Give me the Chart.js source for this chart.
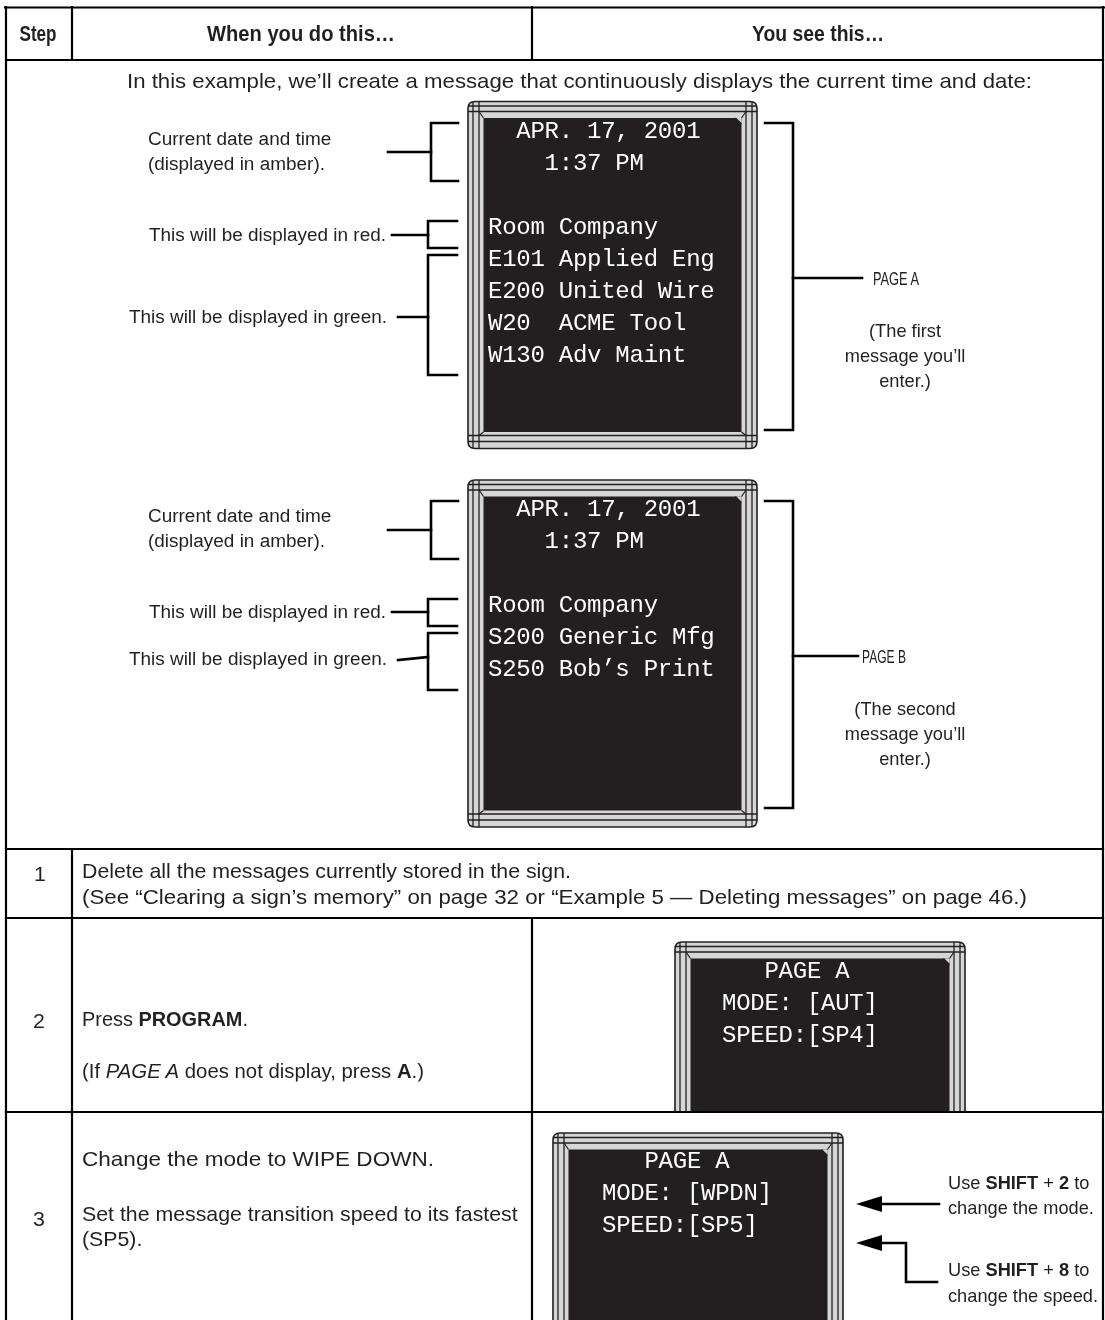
<!DOCTYPE html>
<html><head><meta charset="utf-8">
<script src="https://cdn.jsdelivr.net/npm/chart.js@4.4.1/dist/chart.umd.min.js"></script>
<style>
html,body{margin:0;padding:0;background:#fff;}
#wrap{position:relative;width:1105px;height:1320px;overflow:hidden;background:#fff;}
#c{position:absolute;left:0;top:0;}
.t{position:absolute;white-space:pre;line-height:1;color:#231f20;font-family:"Liberation Sans",Arial,sans-serif;}
.body{font-size:21px;}
.note{font-size:19px;}
.label{font-size:18px;}
.head{font-size:22px;font-weight:bold;}
.mono{font-family:"Liberation Mono","DejaVu Sans Mono",monospace;font-size:24px;letter-spacing:-0.25px;color:#fff;}
</style></head>
<body><div id="wrap"><canvas id="c" width="1105" height="1320"></canvas><div id="txt"></div></div>
<script>
// ---------- content ----------
const headers = ["Step", "When you do this…", "You see this…"];
const introText = "In this example, we’ll create a message that continuously displays the current time and date:";
const signALines = ["  APR. 17, 2001", "    1:37 PM", "", "Room Company", "E101 Applied Eng", "E200 United Wire", "W20  ACME Tool", "W130 Adv Maint"];
const signBLines = ["  APR. 17, 2001", "    1:37 PM", "", "Room Company", "S200 Generic Mfg", "S250 Bob’s Print"];
const sign2Lines = ["   PAGE A", "MODE: [AUT]", "SPEED:[SP4]"];
const sign3Lines = ["   PAGE A", "MODE: [WPDN]", "SPEED:[SP5]"];
const dateLabel = ["Current date and time", "(displayed in amber)."];
const redLabel = "This will be displayed in red.";
const greenLabel = "This will be displayed in green.";
const pageANote = ["PAGE A", "(The first", "message you’ll", "enter.)"];
const pageBNote = ["PAGE B", "(The second", "message you’ll", "enter.)"];
const step1 = ["Delete all the messages currently stored in the sign.", "(See “Clearing a sign’s memory” on page 32 or “Example 5 — Deleting messages” on page 46.)"];
const step2 = ["Press <b>PROGRAM</b>.", "(If <i>PAGE A</i> does not display, press <b>A</b>.)"];
const step3 = ["Change the mode to WIPE DOWN.", "Set the message transition speed to its fastest", "(SP5)."];
const step3Notes = ["Use <b>SHIFT</b> + <b>2</b> to", "change the mode.", "Use <b>SHIFT</b> + <b>8</b> to", "change the speed."];
const stepNumbers = ["1", "2", "3"];

// ---------- geometry (page units) ----------
const tableRules = [
  [[5,7.5],[1104,7.5]], [[6,7],[6,1320]], [[1103,7],[1103,1320]],
  [[6,60],[1103,60]], [[72,7],[72,60]], [[532,7],[532,60]],
  [[6,849],[1103,849]], [[72,849],[72,1320]], [[6,918],[1103,918]],
  [[532,918],[532,1320]], [[6,1112],[1103,1112]]
];
const brackets = [
  [[458,123],[431,123],[431,181],[458,181]], [[388,152],[431,152]],
  [[457,221],[428,221],[428,248],[457,248]], [[392,235],[428,235]],
  [[457,255],[428,255],[428,375],[457,375]], [[398,317],[428,317]],
  [[765,123],[793,123],[793,430],[765,430]], [[793,278],[862,278]],
  [[458,501],[431,501],[431,559],[458,559]], [[388,530],[431,530]],
  [[457,599],[428,599],[428,626],[457,626]], [[392,612],[428,612]],
  [[457,633],[428,633],[428,690],[457,690]], [[398,660],[428,657]],
  [[765,501],[793,501],[793,808],[765,808]], [[793,656],[858,656]],
  [[878,1204],[939,1204]], [[878,1243],[906,1243],[906,1282],[937,1282]]
];
const arrowHeads = [[856,1204],[856,1243]];
const signs = [
  {x0:468, y0:101.5, x1:757, y1:448.5, cut:null},
  {x0:468, y0:480, x1:757, y1:827, cut:null},
  {x0:675, y0:942, x1:965, y1:1150, cut:1111},
  {x0:553, y0:1133, x1:843, y1:1360, cut:1320}
];

// ---------- chart ----------
function line(pts, w) {
  return {data: pts.map(p => ({x:p[0], y:p[1]})), showLine:true, borderColor:'#000',
    borderWidth:w, pointRadius:0, fill:false, tension:0, borderCapStyle:'square', borderJoinStyle:'miter'};
}
const datasets = tableRules.map(r => line(r, 2.2)).concat(brackets.map(b => line(b, 2.6)));

function rr(ctx, x, y, w, h, r) {
  ctx.beginPath();
  ctx.moveTo(x+r, y); ctx.lineTo(x+w-r, y); ctx.quadraticCurveTo(x+w, y, x+w, y+r);
  ctx.lineTo(x+w, y+h-r); ctx.quadraticCurveTo(x+w, y+h, x+w-r, y+h);
  ctx.lineTo(x+r, y+h); ctx.quadraticCurveTo(x, y+h, x, y+h-r);
  ctx.lineTo(x, y+r); ctx.quadraticCurveTo(x, y, x+r, y); ctx.closePath();
}
function drawSign(ctx, s, px, py) {
  const x0 = px(s.x0), y0 = py(s.y0), x1 = px(s.x1), y1 = py(s.y1);
  const ink = '#231f20', light = '#d6d6d6';
  ctx.save();
  if (s.cut != null) { ctx.beginPath(); ctx.rect(x0-3, y0-3, x1-x0+6, py(s.cut)-y0+3); ctx.clip(); }
  rr(ctx, x0, y0, x1-x0, y1-y0, 7);
  ctx.fillStyle = light; ctx.fill();
  ctx.lineWidth = 1.6; ctx.strokeStyle = ink; ctx.stroke();
  ctx.save(); rr(ctx, x0, y0, x1-x0, y1-y0, 7); ctx.clip();
  ctx.lineWidth = 1.3; ctx.strokeStyle = ink;
  ctx.beginPath();
  [x0+5, x0+11, x1-5, x1-11].forEach(x => { ctx.moveTo(x, y0); ctx.lineTo(x, y1); });
  [y0+4.5, y0+10, y1-7, y1-13].forEach(y => { ctx.moveTo(x0, y); ctx.lineTo(x1, y); });
  ctx.stroke();
  ctx.restore();
  const l = x0+15.5, t = y0+16.5, r = x1-15.5, b = y1-16.5;
  ctx.fillStyle = ink; ctx.fillRect(l, t, r-l, b-t);
  ctx.fillStyle = light;
  ctx.beginPath(); ctx.moveTo(r-6, t); ctx.lineTo(r, t); ctx.lineTo(r, t+6); ctx.closePath(); ctx.fill();
  ctx.lineWidth = 1.2; ctx.strokeStyle = ink; ctx.beginPath();
  ctx.moveTo(r-6, t); ctx.lineTo(r, t+6);
  ctx.moveTo(r, t); ctx.lineTo(x1-11, y0+10);
  ctx.moveTo(l, t); ctx.lineTo(x0+11, y0+10);
  ctx.moveTo(l, b); ctx.lineTo(x0+11, y1-13);
  ctx.moveTo(r, b); ctx.lineTo(x1-11, y1-13);
  ctx.stroke();
  ctx.restore();
}
const signPlugin = {
  id: 'signs',
  beforeDatasetsDraw(chart) {
    const ctx = chart.ctx, xs = chart.scales.x, ys = chart.scales.y;
    const px = v => xs.getPixelForValue(v), py = v => ys.getPixelForValue(v);
    signs.forEach(s => drawSign(ctx, s, px, py));
  },
  afterDatasetsDraw(chart) {
    const ctx = chart.ctx, xs = chart.scales.x, ys = chart.scales.y;
    ctx.save(); ctx.fillStyle = '#000';
    arrowHeads.forEach(a => {
      const x = xs.getPixelForValue(a[0]), y = ys.getPixelForValue(a[1]);
      ctx.beginPath(); ctx.moveTo(x, y); ctx.lineTo(x+26, y-8); ctx.lineTo(x+26, y+8); ctx.closePath(); ctx.fill();
    });
    ctx.restore();
  }
};
new Chart(document.getElementById('c'), {
  type: 'scatter',
  data: {datasets},
  options: {
    responsive:false, animation:false, events:[],
    layout:{padding:0},
    scales:{
      x:{type:'linear', min:0, max:1105, display:false},
      y:{type:'linear', min:0, max:1320, reverse:true, display:false}
    },
    plugins:{legend:{display:false}, tooltip:{enabled:false}}
  },
  plugins:[signPlugin]
});

// ---------- text ----------
const box = document.getElementById('txt');
function naturalWidth(html, k) {
  const d = document.createElement('div');
  d.className = 't ' + k; d.innerHTML = html; box.appendChild(d);
  const w = d.getBoundingClientRect().width; box.removeChild(d); return w;
}
// one horizontal squeeze per text class, calibrated on one line each
const classScale = {
  body: 869 / naturalWidth(introText, 'body'),
  note: 150 / naturalWidth(step3Notes[3], 'note'),
  label: 237 / naturalWidth(redLabel, 'label'),
  head: 188 / naturalWidth(headers[1], 'head'),
  mono: 1
};
const items = [];
function add(html, x, y, a, k, w) { items.push({html, x, y, a, k, w}); }
add(headers[0], 38, 34, 'c', 'head', 37); add(headers[1], 301, 34, 'c', 'head'); add(headers[2], 818, 34, 'c', 'head', 132);
add(introText, 127, 80, 'l', 'body', 905);
signALines.forEach((s, i) => s && add(s, 488, 132 + 32*i, 'l', 'mono'));
signBLines.forEach((s, i) => s && add(s, 488, 510 + 32*i, 'l', 'mono'));
sign2Lines.forEach((s, i) => add(s, 722, 972 + 32*i, 'l', 'mono'));
sign3Lines.forEach((s, i) => add(s, 602, 1162 + 32*i, 'l', 'mono'));
add(dateLabel[0], 148, 139, 'l', 'label'); add(dateLabel[1], 148, 164, 'l', 'label');
add(redLabel, 386, 235, 'r', 'label'); add(greenLabel, 387, 317, 'r', 'label');
add(dateLabel[0], 148, 516, 'l', 'label'); add(dateLabel[1], 148, 541, 'l', 'label');
add(redLabel, 386, 612, 'r', 'label'); add(greenLabel, 387, 659, 'r', 'label');
add(pageANote[0], 873, 278, 'l', 'note', 46);
pageANote.slice(1).forEach((s, i) => add(s, 905, 330 + 25*i, 'c', 'note'));
add(pageBNote[0], 862, 656, 'l', 'note', 44);
pageBNote.slice(1).forEach((s, i) => add(s, 905, 708 + 25*i, 'c', 'note'));
add(stepNumbers[0], 40, 873, 'c', 'body'); add(stepNumbers[1], 39, 1020, 'c', 'body'); add(stepNumbers[2], 39, 1218, 'c', 'body');
add(step1[0], 82, 870, 'l', 'body'); add(step1[1], 82, 896, 'l', 'body', 945);
add(step2[0], 82, 1018, 'l', 'body', 166); add(step2[1], 82, 1070, 'l', 'body', 342);
add(step3[0], 82, 1158, 'l', 'body', 352); add(step3[1], 82, 1213, 'l', 'body'); add(step3[2], 82, 1238, 'l', 'body');
[1182, 1207, 1269, 1295].forEach((y, i) => add(step3Notes[i], 948, y, 'l', 'note'));

items.forEach(it => {
  const d = document.createElement('div');
  d.className = 't ' + it.k;
  d.innerHTML = it.html;
  d.style.left = it.x + 'px'; d.style.top = it.y + 'px';
  box.appendChild(d);
  const s = it.w ? it.w / d.getBoundingClientRect().width : classScale[it.k];
  if (it.a === 'c') { d.style.transformOrigin = '50% 50%'; d.style.transform = `translate(-50%,-50%) scaleX(${s})`; }
  else if (it.a === 'r') { d.style.transformOrigin = '100% 50%'; d.style.transform = `translate(-100%,-50%) scaleX(${s})`; }
  else { d.style.transformOrigin = '0 50%'; d.style.transform = `translateY(-50%) scaleX(${s})`; }
});
</script>
</body></html>
